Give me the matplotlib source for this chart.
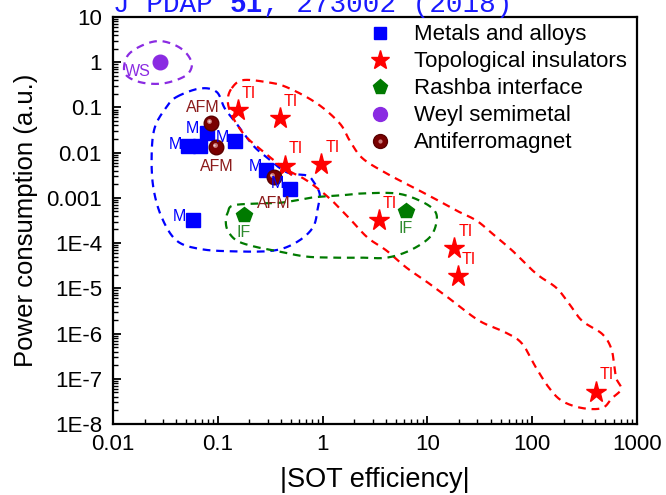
import numpy as np
import matplotlib
matplotlib.use("Agg")
import matplotlib.pyplot as plt
from matplotlib.lines import Line2D
from matplotlib.transforms import ScaledTranslation

plt.rcParams['font.family'] = ['Liberation Sans', 'DejaVu Sans']

# ---------------- data ----------------
metal_x = [0.078, 0.052, 0.067, 0.145, 0.29, 0.485, 0.058]
metal_y = [0.027, 0.0138, 0.014, 0.018, 0.0041, 0.0016, 0.00032]
metal_lbl = ["M", "M", "", "M", "M", "M", "M"]

ti_x = [0.156, 0.39, 0.435, 0.97, 3.44, 18.1, 19.4, 404]
ti_y = [0.087, 0.057, 0.0052, 0.0057, 0.00032, 7.8e-5, 1.9e-5, 5.2e-8]
ti_lbl = ["TI"] * 8

if_x = [0.177, 6.2]
if_y = [0.00041, 0.0005]
if_lbl = ["IF", "IF"]

ws_x = [0.028]
ws_y = [1.0]
ws_lbl = ["WS"]

afm_x = [0.086, 0.097, 0.34]
afm_y = [0.046, 0.0133, 0.0029]
afm_lbl = ["AFM", "AFM", "AFM"]

legend_labels = ["Metals and alloys", "Topological insulators", "Rashba interface",
                 "Weyl semimetal", "Antiferromagnet"]

x_ticks = [0.01, 0.1, 1, 10, 100, 1000]
x_ticklabels = ["0.01", "0.1", "1", "10", "100", "1000"]
y_ticks = [10, 1, 0.1, 0.01, 0.001, 1e-4, 1e-5, 1e-6, 1e-7, 1e-8]
y_ticklabels = ["10", "1", "0.1", "0.01", "0.001", "1E-4", "1E-5", "1E-6", "1E-7", "1E-8"]

# enclosure outlines (log10 x, log10 y)
ws_region_lx = [-1.895, -1.857, -1.714, -1.552, -1.39, -1.286, -1.248, -1.314, -1.505, -1.695, -1.838]
ws_region_ly = [-0.175, 0.157, 0.379, 0.468, 0.357, 0.157, -0.086, -0.308, -0.463, -0.463, -0.353]

metal_region_lx = [-1.393, -1.171, -1.012, -0.933, -0.822, -0.664, -0.536, -0.346, -0.155, -0.095,
                   -0.029, -0.045, -0.092, -0.25, -0.473, -0.854, -1.171, -1.393, -1.536, -1.616,
                   -1.631, -1.6, -1.489]
metal_region_ly = [-0.767, -0.581, -0.656, -1.024, -1.357, -1.838, -2.098, -2.43, -2.503, -2.614,
                   -2.902, -3.206, -3.65, -3.982, -4.166, -4.182, -4.129, -3.945, -3.428, -2.763,
                   -2.022, -1.432, -0.989]

ti_region_lx = [-0.867, -0.762, -0.533, -0.343, -0.057, 0.162, 0.257, 0.381, 0.61, 0.829, 1.048,
                1.276, 1.467, 1.619, 1.81, 2.038, 2.229, 2.352, 2.476, 2.667, 2.752, 2.781, 2.8,
                2.848, 2.762, 2.667, 2.476, 2.286, 2.162, 2.038, 1.905, 1.752, 1.495, 1.238, 1.019,
                0.8, 0.61, 0.429, 0.257, 0.067, -0.152, -0.362, -0.581, -0.743, -0.867, -0.905]
ti_region_ly = [-0.574, -0.397, -0.441, -0.552, -0.907, -1.35, -1.727, -2.126, -2.459, -2.725, -2.991,
                -3.279, -3.501, -3.789, -4.166, -4.676, -4.987, -5.341, -5.718, -6.007, -6.317, -6.672,
                -6.982, -7.226, -7.426, -7.647, -7.647, -7.492, -7.204, -6.761, -6.228, -5.984, -5.718,
                -5.275, -4.898, -4.543, -4.166, -3.878, -3.457, -3.013, -2.614, -2.348, -1.949, -1.616,
                -1.173, -0.84]

if_region_lx = [-0.905, -0.857, -0.629, -0.381, -0.095, 0.162, 0.381, 0.705, 0.924, 1.067, 1.086,
                1.019, 0.829, 0.61, 0.381, 0.133, -0.152, -0.41, -0.648, -0.819, -0.905, -0.924]
if_region_ly = [-3.324, -3.169, -3.124, -3.102, -2.991, -2.947, -2.902, -2.902, -3.058, -3.279, -3.545,
                -3.878, -4.166, -4.322, -4.322, -4.322, -4.299, -4.188, -4.078, -3.945, -3.723, -3.501]

title_parts = ["J PDAP ", "51", ", 273002 (2018)"]
title_weights = ["normal", "bold", "normal"]

# ---------------- colours ----------------
c_metal = '#0000ff'
c_ti = '#ff0000'
c_if = '#007a00'
c_ws = '#8a2be2'
c_afm = '#7a0000'
c_afm_txt = '#8b1a1a'


def closed_curve(lx, ly, n=24):
    P = np.column_stack([lx, ly])
    N = len(P)
    t = np.linspace(0, 1, n, endpoint=False)[:, None]
    segs = []
    for i in range(N):
        p0, p1, p2, p3 = P[(i - 1) % N], P[i], P[(i + 1) % N], P[(i + 2) % N]
        pts = 0.5 * ((2 * p1) + (-p0 + p2) * t + (2 * p0 - 5 * p1 + 4 * p2 - p3) * t ** 2
                     + (-p0 + 3 * p1 - 3 * p2 + p3) * t ** 3)
        segs.append(pts)
    segs.append(P[:1])
    Q = np.vstack(segs)
    return 10 ** Q[:, 0], 10 ** Q[:, 1]


fig = plt.figure(figsize=(6.66, 4.95), dpi=100)
ax = fig.add_axes([0.1697, 0.1434, 0.9565 - 0.1697, 0.9657 - 0.1434])
ax.set_xscale('log')
ax.set_yscale('log')
ax.set_xlim(0.01, 1000)
ax.set_ylim(1e-8, 10)

dash = (0, (3.5, 2.6))
for lx, ly, c in [(ws_region_lx, ws_region_ly, c_ws), (metal_region_lx, metal_region_ly, c_metal),
                  (ti_region_lx, ti_region_ly, c_ti), (if_region_lx, if_region_ly, c_if)]:
    cx, cy = closed_curve(lx, ly)
    ax.plot(cx, cy, color=c, lw=1.6, linestyle=dash, zorder=2)

ms_sq, ms_star, ms_pent, ms_circ = 10, 15.5, 11.5, 10.5
ax.plot(metal_x, metal_y, 's', color=c_metal, ms=ms_sq, mec=c_metal, zorder=4)
ax.plot(ti_x, ti_y, '*', color=c_ti, ms=ms_star, mec=c_ti, zorder=4)
ax.plot(if_x, if_y, 'p', color=c_if, ms=ms_pent, mec=c_if, zorder=4)
ax.plot(ws_x, ws_y, 'o', color=c_ws, ms=ms_circ, mec=c_ws, zorder=4)
ax.plot(afm_x, afm_y, 'o', color=c_afm, ms=ms_circ, mec='#5a0000', zorder=5)
hl = ax.transData + ScaledTranslation(-1.3 / 72, 1.3 / 72, fig.dpi_scale_trans)
ax.plot(afm_x, afm_y, 'o', color='#c97a7a', ms=3.5, mec='none', transform=hl, zorder=6)
hl2 = ax.transData + ScaledTranslation(-1.5 / 72, 1.5 / 72, fig.dpi_scale_trans)
ax.plot(afm_x, afm_y, 'o', color='#f0d0d0', ms=1.6, mec='none', transform=hl2, zorder=7)

lab_fs = 11.5
metal_off = [(-10, 3.5), (-9, 1.5), (0, 0), (-9, 2.5), (-8, 2.5), (-9, 3.5), (-10, 2.5)]
ti_off = [(8, 12)] * 8
if_off = [(0, -12.5), (0, -12.5)]
ws_off = [(-16, -7)]
afm_off = [(-5.5, 11), (0, -14), (0, -19)]
for xs, ys, lbls, offs, c in [(metal_x, metal_y, metal_lbl, metal_off, c_metal),
                              (ti_x, ti_y, ti_lbl, ti_off, c_ti),
                              (if_x, if_y, if_lbl, if_off, '#2e8b2e'),
                              (ws_x, ws_y, ws_lbl, ws_off, c_ws),
                              (afm_x, afm_y, afm_lbl, afm_off, c_afm_txt)]:
    for x, y, t, o in zip(xs, ys, lbls, offs):
        if t:
            ax.annotate(t, (x, y), xytext=o, textcoords='offset points', ha='center',
                        va='center', fontsize=lab_fs, color=c, zorder=8)

ax.xaxis.set_major_locator(matplotlib.ticker.FixedLocator(x_ticks))
ax.xaxis.set_major_formatter(matplotlib.ticker.FixedFormatter(x_ticklabels))
ax.yaxis.set_major_locator(matplotlib.ticker.FixedLocator(y_ticks))
ax.yaxis.set_major_formatter(matplotlib.ticker.FixedFormatter(y_ticklabels))
ax.xaxis.set_minor_locator(matplotlib.ticker.LogLocator(base=10, subs=np.arange(2, 10), numticks=20))
ax.yaxis.set_minor_locator(matplotlib.ticker.LogLocator(base=10, subs=np.arange(2, 10), numticks=20))
ax.xaxis.set_minor_formatter(matplotlib.ticker.NullFormatter())
ax.yaxis.set_minor_formatter(matplotlib.ticker.NullFormatter())
ax.tick_params(which='major', direction='in', length=6, width=1.3, labelsize=16,
               top=False, right=False)
ax.tick_params(axis='x', which='major', pad=7)
ax.tick_params(axis='y', which='major', pad=8)
ax.tick_params(which='minor', direction='in', length=3.5, width=1.0, top=False, right=False)
for s in ax.spines.values():
    s.set_linewidth(1.6)

ax.set_xlabel("|SOT efficiency|", fontsize=19.5, labelpad=9)
ax.set_ylabel("Power consumption (a.u.)", fontsize=18.5, labelpad=6)

handles = [
    Line2D([], [], ls='none', marker='s', color=c_metal, ms=9),
    Line2D([], [], ls='none', marker='*', color=c_ti, ms=14),
    Line2D([], [], ls='none', marker='p', color=c_if, ms=11),
    Line2D([], [], ls='none', marker='o', color=c_ws, ms=10),
    (Line2D([], [], ls='none', marker='o', color=c_afm, ms=10, mec='#5a0000'),
     Line2D([], [], ls='none', marker='o', color='#c97a7a', ms=3, mec='none')),
]
ax.legend(handles, legend_labels, loc='upper left', bbox_to_anchor=(0.485, 0.982),
          frameon=False, fontsize=16, handlelength=1.2, handletextpad=0.9,
          labelspacing=0.27, borderaxespad=0, borderpad=0)

title_fs = 20
char_px = 0.6 * title_fs * 100 / 72
xpos = 113 / 666
for part, w in zip(title_parts, title_weights):
    fig.text(xpos, 1 - 12 / 495, part, fontsize=title_fs, family='Liberation Mono',
             color='#1a1aff', weight=w, va='baseline', ha='left')
    xpos += len(part) * char_px / 666

fig.savefig("out.png", dpi=100)
